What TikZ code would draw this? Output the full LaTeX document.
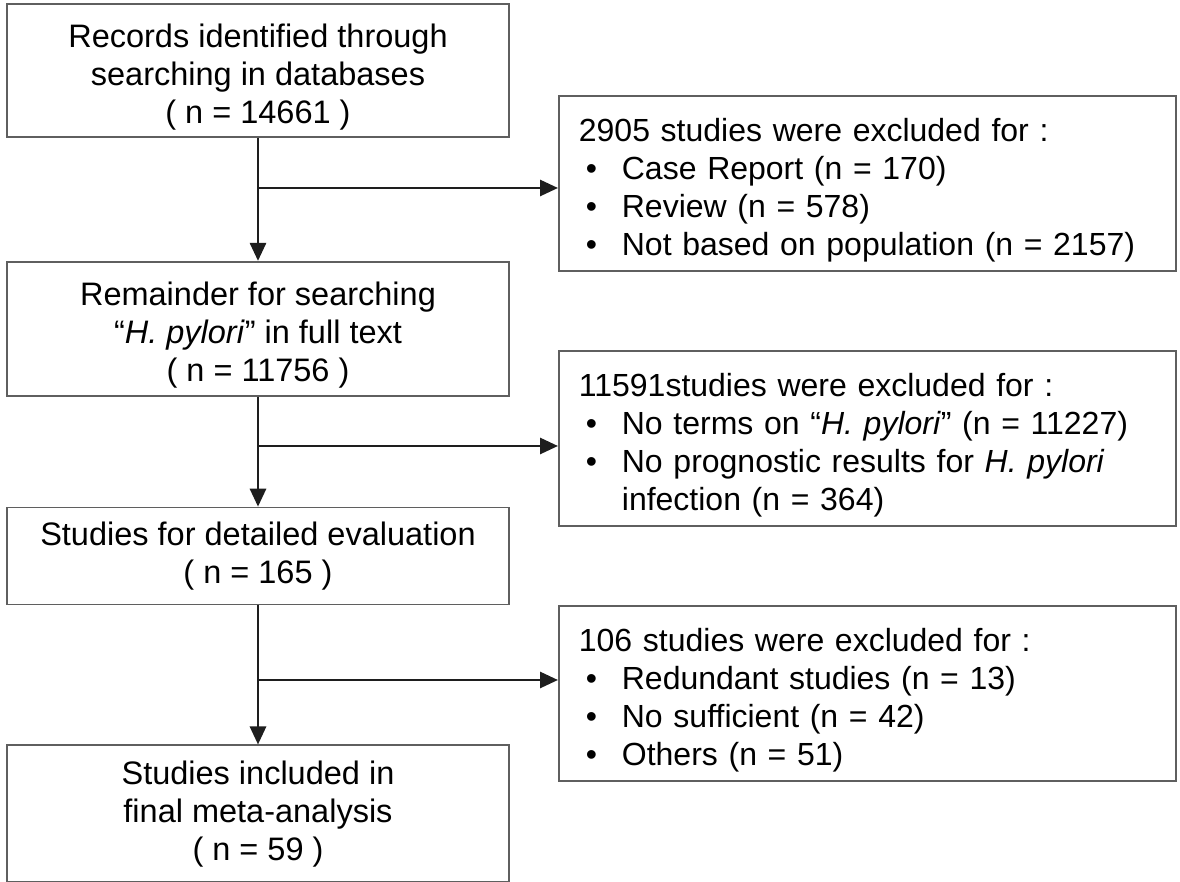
\documentclass[tikz,border=0pt]{standalone}
\usepackage{fontspec}
\setmainfont{Liberation Sans}
\usetikzlibrary{positioning,arrows.meta}
\definecolor{flowLine}{RGB}{30,30,30}
\definecolor{boxEdge}{RGB}{95,95,95}
\newcommand{\bitem}{\makebox[43pt][l]{\hspace{7pt}•}}
\newcommand{\hp}{\textit{H. pylori}}
\newcommand{\topgap}{\rule{0pt}{36pt}}

\begin{document}
\begin{tikzpicture}[x=1pt, y=1pt,
    stagebox/.style={draw=boxEdge, line width=1.8pt, fill=white, minimum width=502pt, align=center, inner sep=4pt, font=\fontsize{32.5}{38}\selectfont},
    exclbox/.style={draw=boxEdge, line width=1.8pt, fill=white, text width=577pt, inner xsep=20pt, inner ysep=4pt, minimum height=175pt, align=left, anchor=north west, font=\fontsize{32}{38}\selectfont},
    flow/.style={-{Triangle[length=18pt,width=16pt]}, line width=2.8pt, color=flowLine}]
    \path[use as bounding box, fill=white] (0,0) rectangle (1180,882);
    % left column
    \node[stagebox, minimum height=133pt] (rec) at (258,811.5) {\topgap Records identified through\\searching in databases\\( n = 14661 )};
    \node[stagebox, minimum height=134pt, below=123pt of rec] (rem) {\topgap Remainder for searching\\“\hp” in full text\\( n = 11756 )};
    \node[stagebox, minimum height=97pt, below=110pt of rem] (eval) {Studies for detailed evaluation\\( n = 165 )};
    \node[stagebox, minimum height=137pt, below=139pt of eval] (incl) {Studies included in\\final meta-analysis\\( n = 59 )};
    % exclusions
    \node[exclbox] (ex1) at (558,787) {\topgap 2905 studies were excluded for :\\
        \bitem Case Report (n = 170)\\
        \bitem Review (n = 578)\\
        \bitem Not based on population (n = 2157)};
    \node[exclbox] (ex2) at (558,532) {\topgap 11591studies were excluded for :\\
        \bitem No terms on “\hp” (n = 11227)\\
        \bitem No prognostic results for \hp\\
        \hspace*{43pt}infection (n = 364)};
    \node[exclbox] (ex3) at (558,277) {\topgap 106 studies were excluded for :\\
        \bitem Redundant studies (n = 13)\\
        \bitem No sufficient (n = 42)\\
        \bitem Others (n = 51)};
    \coordinate (b1) at (258,694);
    \coordinate (b2) at (258,436);
    \coordinate (b3) at (258,202);
    \draw[flow] (rec) -- (rem);
    \draw[flow] (rem) -- (eval);
    \draw[flow] (eval) -- (incl);
    \draw[flow] (b1) -- (b1 -| ex1.west);
    \draw[flow] (b2) -- (b2 -| ex2.west);
    \draw[flow] (b3) -- (b3 -| ex3.west);
\end{tikzpicture}
\end{document}
